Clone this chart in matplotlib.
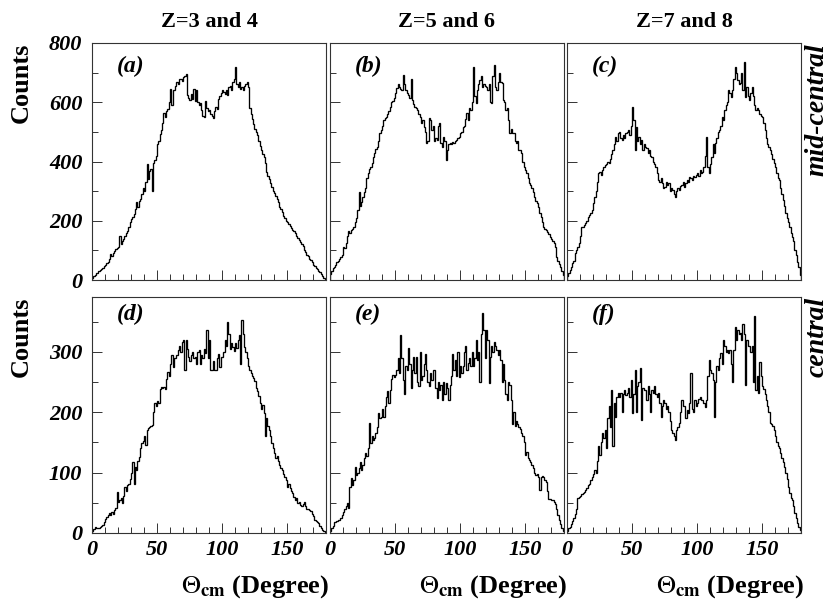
import numpy as np
import matplotlib
matplotlib.use("Agg")
import matplotlib.pyplot as plt

# ---- data: counts per 1-degree bin, 0..180 deg ----
edges = np.arange(0, 181, 1)

counts_a = [
    8, 12, 18, 22, 25, 30, 35, 38, 42, 48,
    52, 58, 62, 70, 88, 80, 92, 98, 105, 108,
    112, 148, 120, 130, 138, 150, 158, 165, 180, 195,
    205, 212, 222, 238, 262, 245, 265, 272, 290, 312,
    300, 330, 392, 340, 368, 375, 300, 395, 405, 420,
    458, 470, 492, 505, 530, 565, 550, 570, 578, 600,
    645, 590, 640, 642, 655, 668, 662, 678, 680, 672,
    685, 690, 695, 625, 615, 608, 628, 612, 645, 605,
    640, 600, 590, 598, 575, 552, 550, 605, 580, 572,
    575, 560, 552, 548, 570, 585, 578, 610, 620, 630,
    640, 635, 628, 640, 625, 650, 655, 640, 668, 680,
    720, 660, 650, 668, 645, 652, 640, 655, 660, 668,
    650, 580, 560, 545, 528, 510, 500, 490, 470, 452,
    440, 425, 415, 395, 365, 352, 340, 328, 315, 300,
    295, 282, 272, 262, 248, 240, 228, 215, 208, 200,
    196, 188, 182, 176, 170, 165, 160, 148, 142, 135,
    128, 122, 115, 102, 95, 86, 80, 72, 66, 60,
    52, 48, 42, 38, 32, 28, 20, 14, 8, 4,
]

counts_b = [
    20, 30, 40, 45, 52, 60, 64, 70, 78, 85,
    112, 108, 125, 150, 165, 158, 170, 172, 180, 195,
    210, 236, 298, 250, 262, 280, 298, 310, 345, 360,
    375, 382, 395, 416, 430, 442, 450, 470, 495, 505,
    520, 540, 548, 551, 560, 570, 585, 600, 605, 613,
    630, 647, 660, 650, 645, 640, 692, 660, 641, 630,
    624, 615, 680, 607, 595, 585, 580, 574, 560, 551,
    530, 540, 518, 500, 462, 470, 548, 540, 506, 520,
    470, 480, 473, 520, 530, 462, 450, 484, 470, 405,
    439, 460, 462, 458, 465, 462, 470, 473, 480, 482,
    495, 500, 518, 520, 545, 563, 540, 580, 574, 600,
    720, 620, 596, 640, 660, 675, 690, 652, 660, 655,
    652, 640, 660, 600, 596, 690, 725, 652, 640, 670,
    700, 670, 665, 607, 600, 574, 580, 540, 495, 510,
    495, 495, 470, 462, 470, 440, 439, 430, 400, 382,
    370, 360, 345, 326, 320, 310, 298, 280, 265, 259,
    245, 225, 214, 195, 180, 172, 168, 163, 155, 146,
    140, 130, 124, 110, 79, 65, 55, 45, 30, 17,
]

counts_c = [
    15, 25, 34, 45, 56, 65, 90, 100, 110, 124,
    150, 180, 178, 185, 191, 200, 214, 220, 225, 236,
    260, 281, 300, 330, 360, 365, 355, 371, 380, 388,
    392, 399, 395, 410, 427, 440, 460, 484, 470, 495,
    500, 478, 473, 490, 480, 495, 500, 506, 490, 520,
    585, 540, 439, 518, 470, 484, 460, 473, 440, 460,
    450, 445, 430, 439, 420, 416, 400, 390, 382, 360,
    337, 330, 345, 326, 310, 315, 330, 320, 326, 300,
    310, 304, 290, 281, 300, 310, 304, 318, 320, 330,
    315, 326, 338, 330, 349, 345, 337, 350, 349, 355,
    360, 352, 370, 360, 365, 382, 420, 484, 380, 360,
    390, 416, 460, 430, 462, 480, 500, 506, 520, 551,
    540, 574, 590, 600, 641, 630, 618, 640, 680, 720,
    700, 675, 660, 664, 700, 640, 737, 618, 650, 620,
    607, 630, 652, 620, 590, 574, 580, 574, 560, 555,
    551, 530, 506, 480, 460, 450, 440, 427, 410, 395,
    382, 360, 345, 337, 310, 290, 270, 250, 225, 210,
    195, 180, 160, 146, 130, 100, 84, 60, 45, 17,
]

counts_d = [
    3, 6, 10, 8, 9, 8, 10, 12, 13, 18,
    24, 26, 30, 33, 30, 35, 32, 38, 41, 68,
    52, 55, 58, 50, 62, 77, 70, 80, 82, 90,
    99, 118, 82, 110, 105, 120, 126, 140, 149, 152,
    160, 145, 170, 174, 176, 178, 179, 200, 215, 210,
    218, 215, 238, 242, 240, 242, 238, 255, 267, 260,
    280, 295, 275, 290, 290, 295, 303, 310, 300, 317,
    320, 270, 320, 305, 292, 285, 295, 300, 290, 292,
    280, 300, 303, 280, 295, 290, 305, 298, 336, 290,
    320, 270, 270, 285, 270, 270, 290, 297, 275, 292,
    292, 300, 320, 310, 350, 330, 305, 315, 308, 302,
    314, 306, 320, 328, 280, 353, 330, 308, 300, 290,
    276, 270, 265, 260, 256, 252, 240, 235, 227, 215,
    205, 212, 198, 160, 190, 177, 170, 160, 149, 140,
    133, 125, 128, 119, 112, 108, 105, 98, 92, 88,
    77, 82, 74, 70, 66, 60, 55, 58, 50, 52,
    46, 44, 48, 52, 45, 40, 39, 38, 36, 32,
    28, 22, 20, 19, 16, 12, 8, 5, 3, 2,
]

counts_e = [
    3, 8, 12, 19, 18, 20, 22, 21, 25, 30,
    35, 40, 45, 49, 42, 77, 91, 80, 88, 110,
    96, 100, 108, 118, 105, 113, 125, 132, 128, 140,
    182, 149, 160, 154, 158, 166, 175, 198, 190, 192,
    205, 193, 210, 226, 235, 215, 237, 255, 262, 259,
    262, 270, 290, 265, 328, 290, 254, 230, 276, 270,
    306, 280, 240, 270, 292, 265, 292, 250, 243, 300,
    254, 260, 280, 297, 270, 250, 243, 265, 254, 270,
    270, 240, 223, 250, 237, 245, 220, 250, 230, 248,
    240, 220, 245, 260, 297, 270, 286, 260, 300, 259,
    276, 265, 276, 300, 309, 270, 281, 290, 276, 300,
    276, 290, 320, 286, 300, 250, 330, 364, 336, 290,
    336, 320, 248, 292, 309, 300, 317, 310, 303, 295,
    303, 286, 250, 280, 254, 230, 220, 250, 245, 220,
    180, 200, 177, 185, 180, 175, 172, 165, 160, 150,
    130, 135, 125, 121, 118, 113, 108, 100, 96, 98,
    93, 71, 93, 95, 93, 88, 85, 70, 57, 56,
    55, 54, 52, 48, 40, 30, 21, 15, 8, 3,
]

counts_f = [
    3, 8, 10, 15, 20, 25, 32, 40, 58, 60,
    62, 65, 66, 68, 71, 75, 79, 82, 88, 93,
    98, 105, 100, 120, 144, 130, 150, 166, 158, 171,
    140, 190, 210, 175, 237, 144, 215, 193, 225, 232,
    225, 232, 200, 230, 237, 228, 232, 240, 225, 254,
    198, 230, 270, 200, 243, 250, 273, 187, 240, 237,
    237, 220, 243, 230, 200, 237, 232, 243, 230, 225,
    232, 215, 193, 210, 221, 215, 205, 210, 200, 185,
    171, 165, 160, 154, 170, 175, 182, 200, 221, 210,
    210, 190, 204, 198, 215, 265, 205, 200, 221, 210,
    215, 222, 226, 220, 221, 215, 208, 221, 260, 287,
    270, 265, 254, 193, 250, 276, 270, 290, 298, 280,
    320, 310, 300, 303, 298, 303, 280, 250, 303, 342,
    320, 336, 330, 331, 320, 347, 330, 245, 320, 309,
    309, 300, 309, 250, 359, 237, 260, 232, 284, 260,
    243, 238, 230, 220, 210, 200, 182, 180, 177, 170,
    160, 150, 144, 140, 132, 125, 118, 110, 100, 90,
    77, 66, 58, 55, 45, 33, 25, 16, 10, 5,
]

panel_labels = ["(a)", "(b)", "(c)", "(d)", "(e)", "(f)"]
column_titles = ["Z=3 and 4", "Z=5 and 6", "Z=7 and 8"]
row_labels = ["mid-central", "central"]
x_ticks = [0, 50, 100, 150]
y_ticks_top = [0, 200, 400, 600, 800]
y_ticks_bot = [0, 100, 200, 300]

# ---- style ----
plt.rcParams["font.family"] = ["Liberation Serif", "DejaVu Serif"]
plt.rcParams["mathtext.fontset"] = "stix"

W, H = 829, 599
fig = plt.figure(figsize=(W / 100, H / 100), dpi=100)

col_left_px = [92, 330, 567]
ax_w_px = 234
rows = [(43, 280), (297, 533)]  # top, bottom pixels
ylims = [800, 391]

all_counts = [counts_a, counts_b, counts_c, counts_d, counts_e, counts_f]
spine_col = "#333333"

axes = []
for r in range(2):
    top, bot = rows[r]
    for c in range(3):
        idx = r * 3 + c
        ax = fig.add_axes([col_left_px[c] / W, 1 - bot / H,
                           ax_w_px / W, (bot - top) / H])
        ax.stairs(all_counts[idx], edges, color="black", lw=0.95)
        ax.set_xlim(0, 180)
        ax.set_ylim(0, ylims[r])
        ax.set_xticks(x_ticks)
        ax.set_xticks(np.arange(0, 181, 10), minor=True)
        if r == 0:
            ax.set_yticks(y_ticks_top)
            ax.set_yticks(np.arange(0, 801, 100), minor=True)
        else:
            ax.set_yticks(y_ticks_bot)
            ax.set_yticks(np.arange(0, 391, 50), minor=True)
        ax.tick_params(which="both", direction="in", top=False, right=False,
                       color=spine_col, width=0.7)
        ax.tick_params(which="major", length=7)
        ax.tick_params(which="minor", length=4)
        ax.tick_params(axis="y", which="major", pad=7)
        ax.tick_params(axis="x", which="major", pad=5)
        for s in ax.spines.values():
            s.set_color(spine_col)
            s.set_linewidth(0.8)
        if c == 0:
            for lab in ax.get_yticklabels():
                lab.set_fontsize(16)
                lab.set_fontweight("bold")
                lab.set_fontstyle("italic")
        else:
            ax.set_yticklabels([])
        if r == 1:
            for lab in ax.get_xticklabels():
                lab.set_fontsize(16)
                lab.set_fontweight("bold")
                lab.set_fontstyle("italic")
        else:
            ax.set_xticklabels([])
        ly = 0.90 if r == 0 else 0.925
        ax.text(0.107, ly, panel_labels[idx], transform=ax.transAxes,
                fontsize=17, fontweight="bold", fontstyle="italic",
                ha="left", va="center")
        axes.append(ax)

# column titles
for c in range(3):
    cx = (col_left_px[c] + ax_w_px / 2) / W
    fig.text(cx, 1 - 22 / H, column_titles[c], fontsize=16,
             fontweight="bold", ha="center", va="center")

# Counts labels
for r in range(2):
    top = rows[r][0]
    fig.text(21 / W, 1 - top / H, "Counts", rotation=90, fontsize=19,
             fontweight="bold", ha="center", va="top")

# right row labels
for r in range(2):
    top = rows[r][0]
    fig.text(817 / W, 1 - top / H, row_labels[r], rotation=90, fontsize=20,
             fontweight="bold", fontstyle="italic", ha="center", va="top")

# x labels
for c in range(3):
    rx = (col_left_px[c] + ax_w_px + 3) / W
    fig.text(rx, 1 - 593 / H, r"$\Theta_{\mathbf{cm}}$ (Degree)", fontsize=19,
             fontweight="bold", ha="right", va="baseline")

fig.savefig("out.png", dpi=100)
